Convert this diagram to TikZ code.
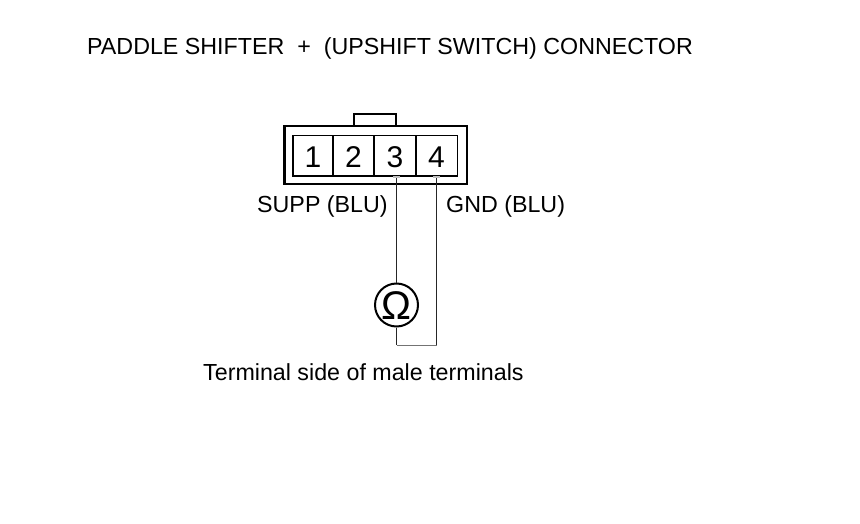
\documentclass[tikz,border=0pt]{standalone}
\usepackage{fontspec}
\setmainfont{Liberation Sans}
\tikzset{
  lbl/.style={inner sep=0pt,anchor=base west,font=\fontsize{23.25}{26}\selectfont,text=black},
  pin/.style={draw=black,line width=1.5pt,minimum height=40.5pt,inner sep=0pt,text height=23.5pt,text depth=0pt,font=\fontsize{30}{32}\selectfont},
  wire/.style={draw=black!85,line width=1.3pt},
  body/.style={draw=black,line width=2.5pt},
}
\begin{document}
\begin{tikzpicture}[x=1pt,y=-1pt]
\useasboundingbox (0,0) rectangle (860,524);
\fill[white] (0,0) rectangle (860,524);
\node[lbl] (title) at (87,54.5) {PADDLE SHIFTER\ \ +\ \ (UPSHIFT SWITCH) CONNECTOR};
\draw[body] (354,126) |- (396,114) -- (396,126);
\node[body,minimum width=182.5pt,minimum height=58pt,inner sep=0pt] (shell) at (375.5,155) {};
\node[pin,minimum width=40.5pt] (p1) at (313,156) {1};
\node[pin,minimum width=41pt] (p2) at (353.5,156) {2};
\node[pin,minimum width=42pt] (p3) at (395,156) {3};
\node[pin,minimum width=41.5pt] (p4) at (436.5,156) {4};
\node[lbl] (supp) at (257,212.5) {SUPP (BLU)};
\node[lbl] (gnd) at (446,212.5) {GND (BLU)};
\node[lbl] (cap) at (203,380) {Terminal side of male terminals};
\node[draw=black,line width=2pt,circle,minimum size=43pt,inner sep=0pt,text height=28pt,text depth=0pt,font=\fontsize{40}{42}\selectfont] (ohm) at (396.5,305) {Ω};
\coordinate (c3) at (396.5,177);
\coordinate (c4) at (436.5,177);
\coordinate (b3) at (396.5,345);
\coordinate (b4) at (436.5,345);
\draw[wire] (c3) -- (ohm.north);
\draw[wire] (ohm.south) -- (b3);
\draw[wire] (c4) -- (b4);
\draw[draw=black!55,line width=1pt] (b3) -- (b4);
\draw[draw=black!25,line width=1.6pt] (393,177) -- (400,177) (433,177) -- (440,177);
\end{tikzpicture}
\end{document}
